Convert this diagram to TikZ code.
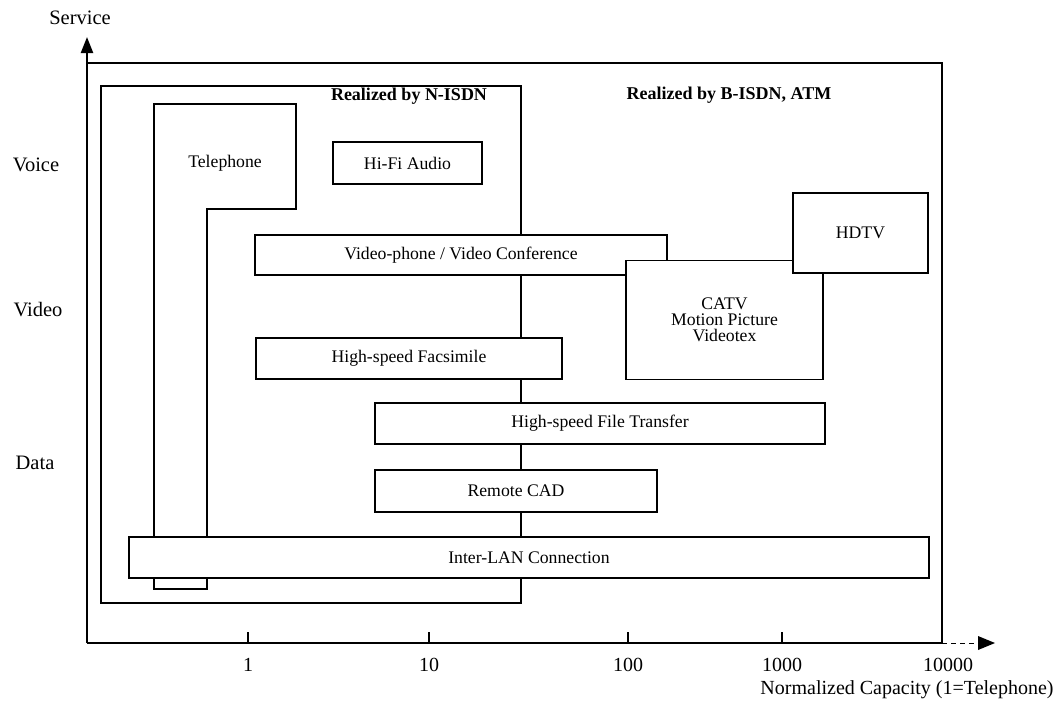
\documentclass[tikz,border=0pt]{standalone}
\usepackage{fontspec}
\setmainfont{Liberation Serif}
\usetikzlibrary{arrows.meta}
\begin{document}
\begin{tikzpicture}[x=1pt,y=-1pt,
  frame/.style={line width=1.5pt},
  svc/.style={draw, line width=1.5pt, fill=white, inner sep=0pt, align=center,
    font=\fontsize{17.7}{16}\selectfont},
  axis/.style={line width=2.2pt},
  lbl/.style={font=\fontsize{17.7}{18}\selectfont},
  side/.style={font=\fontsize{20.5}{22}\selectfont},
  ticklbl/.style={font=\fontsize{20}{22}\selectfont},
  region/.style={font=\bfseries\fontsize{18}{20}\selectfont},
  tick/.style={line width=1.5pt}
]
\useasboundingbox (0,0) rectangle (1054,712);

% axes
\coordinate (O) at (87,643);
\coordinate (ytip) at (87,37);
\coordinate (xend) at (942,643);
\coordinate (xtip) at (995,643);
\draw[axis, -{Triangle[length=16pt,width=12pt]}] (O) -- (ytip);
\draw[axis] (O) -- (xend);
\draw[line width=1pt, dash pattern=on 5pt off 4pt] (xend) -- (978,643);
\fill (978,636) -- (xtip) -- (978,650) -- cycle;

% B-ISDN / ATM region (shares the axes as its left and bottom sides)
\draw[frame] (87,63) -- (942,63) -- (xend);

% N-ISDN region
\draw[frame] (101,86) rectangle (521,603);

% telephone band
\draw[frame] (154,104) -- (296,104) -- (296,209) -- (207,209) -- (207,589) -- (154,589) -- cycle;
\node[lbl] (tel) at (225,163) {Telephone};

% region titles
\node[region] (nisdn) at (409,96) {Realized by N-ISDN};
\node[region] (bisdn) at (729,95) {Realized by B-ISDN, ATM};

% services
\node[svc, minimum width=149pt, minimum height=42pt] (hifi) at (407.5,163) {Hi-Fi Audio};
\node[svc, minimum width=412pt, minimum height=40pt] (vphone) at (461,255) {Video-phone / Video Conference};
\node[svc, minimum width=306pt, minimum height=41pt] (fax) at (409,358.5) {High-speed Facsimile};
\node[svc, minimum width=450pt, minimum height=41pt] (ftp) at (600,423.5) {High-speed File Transfer};
\node[svc, minimum width=282pt, minimum height=42pt] (cad) at (516,491) {Remote CAD};
\node[svc, minimum width=800pt, minimum height=41pt] (lan) at (529,557.5) {Inter-LAN Connection};
\node[svc, minimum width=197pt, minimum height=119pt] (catv) at (724.5,320) {CATV\\Motion Picture\\Videotex};
\node[svc, minimum width=135pt, minimum height=80pt] (hdtv) at (860.5,233) {HDTV};

% axis labels
\node[side] (service) at (80,18) {Service};
\node[side] (voice) at (36,165) {Voice};
\node[side] (video) at (38,310) {Video};
\node[side] (data) at (35,463) {Data};

% capacity ticks
\foreach \x/\t/\n in {248/1/t1, 429/10/t2, 628/100/t3, 782/1000/t4} {
  \draw[tick] (\x,643) -- (\x,632);
  \node[ticklbl] (\n) at (\x,665) {\t};
}
\node[ticklbl] (t5) at (948,665) {10000};
\node[ticklbl] (xlabel) at (907,690) {Normalized Capacity (1=Telephone)};
\end{tikzpicture}
\end{document}
